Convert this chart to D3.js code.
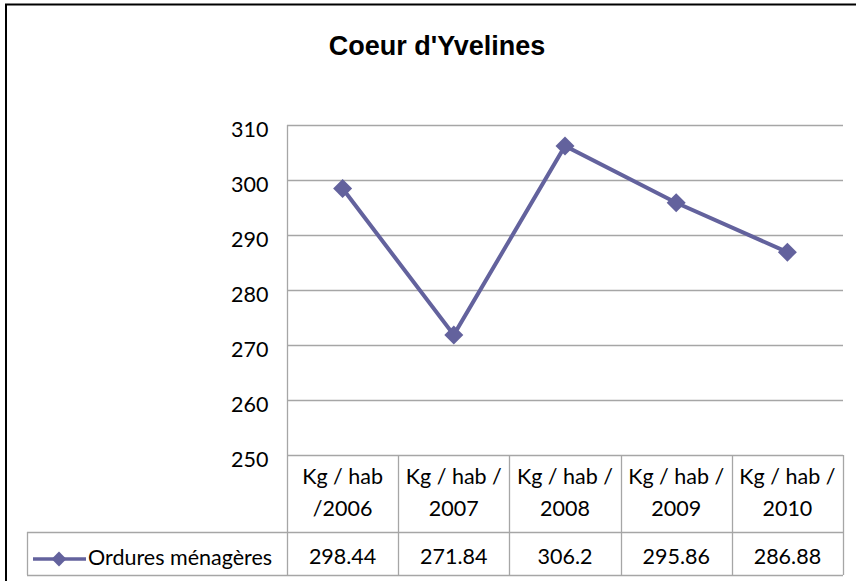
<!DOCTYPE html>
<html>
<head>
<meta charset="utf-8">
<script src="https://cdn.jsdelivr.net/npm/d3@7"></script>
<style>
  body { margin: 0; background: #fff; }
  svg { display: block; }
</style>
</head>
<body>
<svg></svg>
<script>
// chart data
let categories = ['Kg / hab /2006', 'Kg / hab / 2007', 'Kg / hab / 2008', 'Kg / hab / 2009', 'Kg / hab / 2010'];
// how each category label wraps in the table
let categoryLines = [['Kg / hab', '/2006'], ['Kg / hab /', '2007'], ['Kg / hab /', '2008'], ['Kg / hab /', '2009'], ['Kg / hab /', '2010']];
let seriesName = 'Ordures ménagères';
let values = [298.44, 271.84, 306.2, 295.86, 286.88];
let valueLabels = ['298.44', '271.84', '306.2', '295.86', '286.88'];
let yTicks = [250, 260, 270, 280, 290, 300, 310];

let width = 856;
let height = 581;

// plot area
let plotLeft = 287, plotRight = 843, plotTop = 125, plotBottom = 455;
// table rows
let rowDivider = 532, tableBottom = 575, legendLeft = 27;

let color = '#63629d';
let gridColor = '#a6a6a6';
let labelFont = 'Lato, "Open Sans", sans-serif';
let labelSize = 21.5;

let svg = d3.select('svg')
    .attr('width', width)
    .attr('height', height);

// outer chart border
svg.append('rect')
    .attr('x', 6)
    .attr('y', 4.5)
    .attr('width', width + 10)
    .attr('height', height + 10)
    .attr('fill', 'none')
    .attr('stroke', '#000')
    .attr('stroke-width', 2);

// title
svg.append('text')
    .attr('x', 437)
    .attr('y', 55)
    .attr('text-anchor', 'middle')
    .attr('font-family', '"Liberation Sans", Arial, sans-serif')
    .attr('font-weight', 'bold')
    .attr('font-size', 27)
    .text("Coeur d'Yvelines");

let xScale = d3.scaleBand()
    .domain(categories)
    .range([plotLeft, plotRight]);

let yScale = d3.scaleLinear()
    .domain([250, 310])
    .range([plotBottom, plotTop]);

// gridlines
svg.append('g')
    .selectAll('line')
    .data(yTicks)
    .enter()
    .append('line')
    .attr('x1', plotLeft)
    .attr('x2', plotRight)
    .attr('y1', function(d) { return Math.round(yScale(d)) + 0.5; })
    .attr('y2', function(d) { return Math.round(yScale(d)) + 0.5; })
    .attr('stroke', gridColor)
    .attr('stroke-width', 1.3);

// y axis
let yAxis = d3.axisLeft(yScale)
    .tickValues(yTicks)
    .tickSize(0)
    .tickPadding(19);

let yAxisG = svg.append('g')
    .attr('transform', `translate(${plotLeft + 0.5}, 0)`)
    .call(yAxis);
yAxisG.select('.domain').remove();
yAxisG.selectAll('text')
    .attr('font-family', labelFont)
    .attr('font-size', labelSize)
    .attr('fill', '#000')
    .attr('dy', '0.55em');

// data table lines
let table = svg.append('g')
    .attr('stroke', gridColor)
    .attr('stroke-width', 1.3);

// left axis line running through the table
table.append('line')
    .attr('x1', plotLeft + 0.5).attr('x2', plotLeft + 0.5)
    .attr('y1', plotTop).attr('y2', tableBottom);

// column dividers
table.selectAll('.col')
    .data(categories)
    .enter()
    .append('line')
    .attr('class', 'col')
    .attr('x1', function(d) { return Math.round(xScale(d) + xScale.bandwidth()) + 0.5; })
    .attr('x2', function(d) { return Math.round(xScale(d) + xScale.bandwidth()) + 0.5; })
    .attr('y1', plotBottom)
    .attr('y2', tableBottom);

table.append('line')
    .attr('x1', legendLeft).attr('x2', plotRight)
    .attr('y1', rowDivider + 0.5).attr('y2', rowDivider + 0.5);
table.append('line')
    .attr('x1', legendLeft).attr('x2', plotRight)
    .attr('y1', tableBottom + 0.5).attr('y2', tableBottom + 0.5);
table.append('line')
    .attr('x1', legendLeft + 0.5).attr('x2', legendLeft + 0.5)
    .attr('y1', rowDivider).attr('y2', tableBottom);

// category labels
let catG = svg.append('g')
    .attr('font-family', labelFont)
    .attr('font-size', labelSize)
    .attr('text-anchor', 'middle');

categories.forEach(function(c, i) {
    let cx = xScale(c) + xScale.bandwidth() / 2;
    catG.append('text')
        .attr('x', cx)
        .attr('y', 484)
        .text(categoryLines[i][0]);
    catG.append('text')
        .attr('x', cx)
        .attr('y', 516)
        .text(categoryLines[i][1]);
});

// value row
svg.append('g')
    .selectAll('text')
    .data(values)
    .enter()
    .append('text')
    .attr('x', function(d, i) { return xScale(categories[i]) + xScale.bandwidth() / 2; })
    .attr('y', 564)
    .attr('text-anchor', 'middle')
    .attr('font-family', labelFont)
    .attr('font-size', labelSize)
    .text(function(d, i) { return valueLabels[i]; });

// line series
let line = d3.line()
    .x(function(d, i) { return xScale(categories[i]) + xScale.bandwidth() / 2; })
    .y(function(d) { return yScale(d); });

svg.append('path')
    .datum(values)
    .attr('d', line)
    .attr('fill', 'none')
    .attr('stroke', color)
    .attr('stroke-width', 4);

let diamond = d3.symbol().type(d3.symbolDiamond2).size(230);

svg.append('g')
    .selectAll('path')
    .data(values)
    .enter()
    .append('path')
    .attr('d', diamond)
    .attr('transform', function(d, i) {
        return `translate(${xScale(categories[i]) + xScale.bandwidth() / 2}, ${yScale(d)})`;
    })
    .attr('fill', color);

// legend key in the table
let legendY = 559;
svg.append('line')
    .attr('x1', 33).attr('x2', 86)
    .attr('y1', legendY).attr('y2', legendY)
    .attr('stroke', color)
    .attr('stroke-width', 3.5);
svg.append('path')
    .attr('d', d3.symbol().type(d3.symbolDiamond2).size(140))
    .attr('transform', `translate(59, ${legendY})`)
    .attr('fill', color);
svg.append('text')
    .attr('x', 88)
    .attr('y', 565)
    .attr('font-family', labelFont)
    .attr('font-size', labelSize)
    .text(seriesName);
</script>
</body>
</html>
